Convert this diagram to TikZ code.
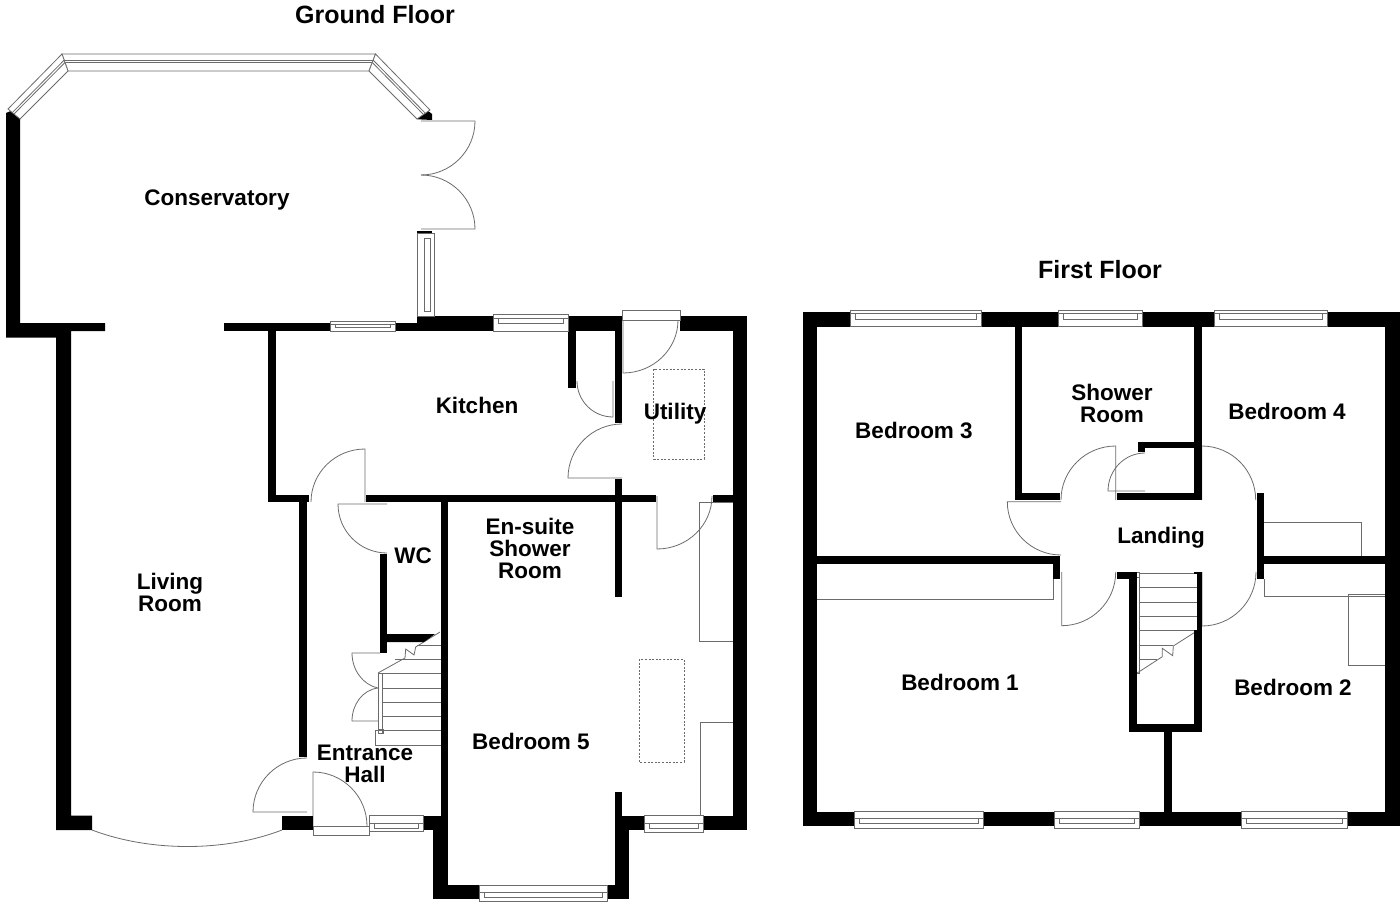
\documentclass[tikz,border=0pt]{standalone}
\usepackage{fontspec}
\setmainfont{Liberation Sans}
\usetikzlibrary{calc}
\tikzset{
    wall/.style={fill=black,draw=none},
    thin line/.style={draw=black!58,line width=0.8pt},
    hidden line/.style={draw=black!58,line width=0.8pt,dash pattern=on 2pt off 1.6pt},
    glass/.style={draw=black!58,line width=0.8pt,fill=white},
    room/.style={font=\fontsize{22.5}{22}\selectfont\bfseries,align=center,inner sep=0pt},
    title/.style={font=\fontsize{25}{25}\selectfont\bfseries,inner sep=0pt}
}
\newcommand{\swingdoor}[6]{%
    \draw[thin line] (#1,#2) -- (#3,#4)
        .. controls ($(#3,#4)+0.552*(#5,#6)-0.552*(#1,#2)$)
        and ($(#5,#6)+0.552*(#3,#4)-0.552*(#1,#2)$) .. (#5,#6);}
\newcommand{\hpane}[6]{%
    \draw[glass] (#1,#3) rectangle (#2,#4);
    \draw[thin line] (#1,#5) -- (#2,#5);
    \draw[thin line] ({#1+5},#5) rectangle ({#2-5},#6);}
\newcommand{\vpane}[6]{%
    \draw[glass] (#3,#1) rectangle (#4,#2);
    \draw[thin line] (#5,{#1+5}) rectangle (#6,{#2-5});}
\newcommand{\slant}[4]{%
    \draw[glass] (#1) -- (#2) -- (#3) -- (#4) -- cycle;
    \draw[thin line] ($(#1)!0.36!(#4)$) -- ($(#2)!0.36!(#3)$);
    \draw[thin line] ($(#1)!0.5!(#4)$) -- ($(#2)!0.5!(#3)$);}
\begin{document}
\begin{tikzpicture}[x=1pt,y=-1pt]
    \useasboundingbox (0,0) rectangle (1400,904);
    \node[title] (groundtitle) at (375,15) {Ground Floor};
    \node[title] (firsttitle) at (1100,270) {First Floor};

    % ground floor doors and fittings
    \swingdoor{421}{121}{475}{121}{421}{175}
    \swingdoor{421}{229}{475}{229}{421}{175}
    \swingdoor{365}{502}{365}{449}{311}{502}
    \swingdoor{387}{504}{338}{504}{387}{553}
    \swingdoor{613}{381}{613}{417}{577}{381}
    \swingdoor{623}{320}{623}{373}{678}{320}
    \swingdoor{622}{478}{568}{478}{622}{424}
    \swingdoor{657}{496}{657}{549}{712}{496}
    \swingdoor{307}{812}{253}{812}{307}{758}
    \swingdoor{313}{826}{313}{772}{367}{826}
    \draw[thin line] (380,653) -- (352,653) .. controls (352,670) and (363,685) .. (378,688)
        .. controls (362,690) and (352,705) .. (352,721) -- (378,721);
    \draw[thin line] (92,830) .. controls (150,852) and (225,852) .. (282,830);
    \draw[thin line] (733,502) -- (699,502) -- (699,641) -- (733,641);
    \draw[thin line] (733,722) -- (700,722) -- (700,816);
    \draw[hidden line] (653.5,369) rectangle (704,459);
    \draw[hidden line] (639,659) rectangle (684,762);

    % ground floor stairs
    \foreach \ya/\xa in {645/417,659/395,673/382,688/382,702/382,716.7/382,730.7/375,745/375}
        \draw[thin line] (\xa,\ya) -- (441,\ya);
    \draw[thin line] (378,673) rectangle (382,733);
    \draw[thin line] (378,729) rectangle (383,733);
    \draw[thin line] (375,731) -- (375,745);
    \draw[thin line] (378,673) -- (405,658) -- (405.7,649) -- (414,655) -- (415.7,647) -- (440,632);

    % first floor doors and fittings
    \swingdoor{1115.7}{500}{1115.7}{446}{1061}{500}
    \swingdoor{1145}{491}{1108}{491}{1145}{453}
    \swingdoor{1201.7}{500}{1201.7}{446}{1255.7}{500}
    \swingdoor{1202}{572}{1202}{626}{1256}{572}
    \swingdoor{1061}{501.7}{1007.3}{501.7}{1061}{555}
    \swingdoor{1061.7}{572}{1061.7}{625.7}{1115.7}{572}
    \draw[thin line] (1264,522.3) -- (1361.7,522.3) -- (1361.7,556);
    \draw[thin line] (1053.3,579) -- (1053.3,599.3) -- (817,599.3);
    \draw[thin line] (1264,579) -- (1264,596) -- (1385,596);
    \draw[thin line] (1385,594.3) -- (1348.7,594.3) -- (1348.7,665) -- (1385,665);

    % first floor stairs
    \foreach \ya/\xa in {573.3/1197,587.7/1197,602/1197,616.3/1197,630.7/1197,645/1173,659.3/1157}
        \draw[thin line] (1138.5,\ya) -- (\xa,\ya);
    \draw[thin line] (1135.5,572) rectangle (1139,673);
    \draw[thin line] (1135.5,572) rectangle (1139,577);
    \draw[thin line] (1136.7,673.3) -- (1162.3,656.7) -- (1162.3,648.3) -- (1172.7,655.7) -- (1173.3,646) -- (1197.3,630.7);

    % walls
    \fill[wall] (6,113) -- (12,110.5) -- (20,118) -- (20,323) -- (105,323) -- (105,331) -- (71,331)
        -- (71,815.7) -- (92,815.7) -- (92,830) -- (56,830) -- (56,337.7) -- (6,337.7) -- cycle;
    \fill[wall] (417.3,119.3) -- (426,109.3) -- (432,114) -- (432,120) -- cycle;
    \fill[wall] (380,634) -- (435,634) -- (424,642) -- (380,642) -- cycle;
    \foreach \xa/\ya/\xb/\yb in {
        224/323/330/331, 330/323/417/331, 417/316/622/331, 680/316/747/331, 733/331/747/830,
        268/331/276/502, 268/495/309/502, 366/495/656/502, 713/495/733/502, 299/502/307/757,
        441/502/448/815.7, 380/554/387/653, 568/331/575.7/388, 615/331/622/423, 615/479/622/597,
        282/815.7/312.5/830, 423/815.7/441/830, 433/815.7/448/899, 433/885/629/899,
        615/792/622/885, 615/815.7/629/899, 622/815.7/747/830, 417/231/432/233,
        803.3/312.3/1400/326.7, 803.3/326.7/817.3/825.7, 1385/326.7/1400/825.7,
        803.3/811.7/1400/825.7, 1015/326.7/1022.3/500, 1015/493/1060.3/500,
        1116.7/493/1201.7/500, 1194.3/326.7/1201.7/500, 1138/441.7/1194.3/448.3,
        1138/448/1145.3/452.3, 1256.7/492.7/1264/579, 1264/556/1385/563.7,
        817.3/556/1060.3/563.7, 1053.3/563.7/1060.3/579, 1129/579/1136.7/731.7,
        1116.7/571.7/1136.7/579.3, 1197.3/571.7/1201.7/630, 1194/571.7/1199/574,
        1194.3/630/1201.7/731.7, 1129/724.3/1201.7/731.7, 1164/731.7/1171.7/811.7}
        \fill[wall] (\xa,\ya) rectangle (\xb,\yb);

    % windows
    \foreach \xa/\xb/\ya/\yb/\la/\lb in {
        330/395/321.5/331/324.5/327.5, 493/568/314/331/318/323.5,
        369/423/815.5/831.5/823/828, 644/703/815.5/832/823/828, 479/607/885/901.5/892.5/897.5,
        850/981/310/326.7/313.3/319, 1058.5/1142/310/326.7/313.3/319, 1214/1327/310/326.7/313.3/319,
        854.3/983.7/811.5/828.5/818.5/823, 1054.6/1139/811.5/828.5/818.5/823, 1241.4/1347.6/811.5/828.5/818.5/823}
        {\hpane{\xa}{\xb}{\ya}{\yb}{\la}{\lb}}
    \vpane{233}{316}{417}{434.5}{424}{430.7}
    \slant{62,54}{375.5,54}{369,71}{68,71}
    \slant{62,54}{8,109}{20,119}{68,71}
    \slant{375.5,54}{430,110}{417,119}{369,71}
    \draw[glass] (622,310) rectangle (680,320);
    \draw[glass] (313,826) rectangle (369,835.5);

    % rooms
    \node[room] (conservatory) at (217,199.5) {Conservatory};
    \node[room] (living) at (170,592) {Living\\Room};
    \node[room] (kitchen) at (477,405) {Kitchen};
    \node[room] (utility) at (675,414) {Utility};
    \node[room] (wc) at (413,556) {WC};
    \node[room] (ensuite) at (530,548) {En-suite\\Shower\\Room};
    \node[room] (hall) at (365,764) {Entrance\\Hall};
    \node[room] (bedfive) at (531,741) {Bedroom 5};
    \node[room] (bedthree) at (914,430) {Bedroom 3};
    \node[room] (shower) at (1112,403) {Shower\\Room};
    \node[room] (bedfour) at (1287,411) {Bedroom 4};
    \node[room] (landing) at (1161,538) {Landing};
    \node[room] (bedone) at (960,682) {Bedroom 1};
    \node[room] (bedtwo) at (1293,687) {Bedroom 2};
\end{tikzpicture}
\end{document}
